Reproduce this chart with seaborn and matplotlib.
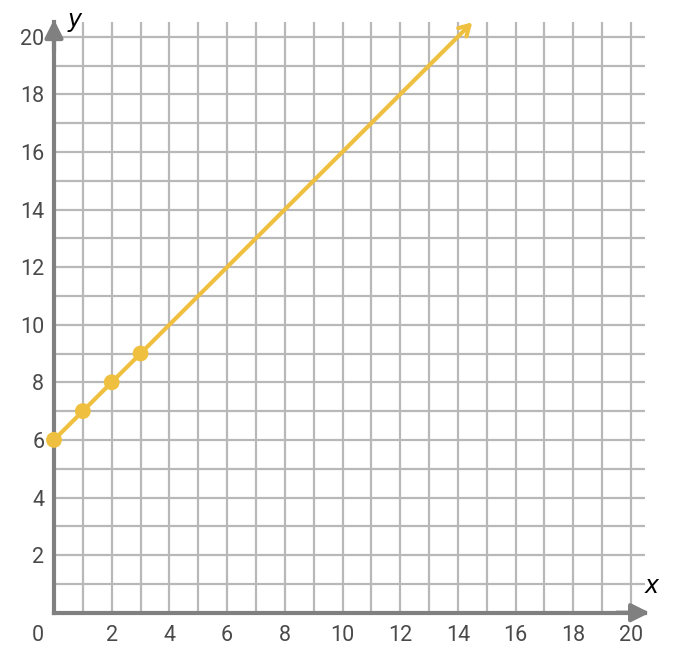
import matplotlib
matplotlib.use("Agg")
import matplotlib.pyplot as plt
import seaborn as sns
import pandas as pd
import matplotlib.transforms as mtransforms

# data
point_x = [0, 1, 2, 3]
point_y = [6, 7, 8, 9]
line_start = (0, 6)
line_end = (14.5, 20.5)
tick_values = [2, 4, 6, 8, 10, 12, 14, 16, 18, 20]
tick_labels = [str(v) for v in tick_values]

sns.set_theme(style="white")
plt.rcParams['font.family'] = ['Roboto', 'DejaVu Sans']

W, H = 676, 656
fig = plt.figure(figsize=(W / 100, H / 100), dpi=100)
ppu_x, ppu_y = 28.85, 28.8
x0_px, y0_px = 54, 612.7
xmax, ymax = 20.5, 20.5
ax = fig.add_axes([x0_px / W, (H - y0_px) / H, xmax * ppu_x / W, ymax * ppu_y / H])
ax.set_xlim(0, xmax)
ax.set_ylim(0, ymax)

grid_c = "#b8b8b8"
axis_c = "#808080"
line_c = "#EFC03F"
text_c = "#4a4a4a"
fs = 15.5

ax.set_xticks(range(1, 21), minor=True)
ax.set_yticks(range(1, 21), minor=True)
ax.set_xticks(tick_values)
ax.set_yticks(tick_values)
ax.set_xticklabels(tick_labels)
ax.set_yticklabels(tick_labels)
ax.grid(True, which="both", color=grid_c, lw=1.6)
ax.set_axisbelow(True)
ax.tick_params(which="both", length=0)
ax.tick_params(axis="x", pad=9, labelsize=fs, labelcolor=text_c)
ax.tick_params(axis="y", pad=7, labelsize=fs, labelcolor=text_c)

for s in ["top", "right"]:
    ax.spines[s].set_visible(False)
for s in ["left", "bottom"]:
    ax.spines[s].set_color(axis_c)
    ax.spines[s].set_linewidth(3)
    ax.spines[s].set_zorder(3)

# axis arrows
ax.annotate("", xy=(20.65, 0), xytext=(19.5, 0),
            arrowprops=dict(arrowstyle="-|>,head_length=0.9,head_width=0.45",
                            color=axis_c, lw=3, shrinkA=0, shrinkB=0),
            annotation_clip=False, zorder=3)
ax.annotate("", xy=(0, 20.6), xytext=(0, 19.5),
            arrowprops=dict(arrowstyle="-|>,head_length=0.9,head_width=0.45",
                            color=axis_c, lw=3, shrinkA=0, shrinkB=0),
            annotation_clip=False, zorder=3)

# the "0" label on the x axis, shifted left
t0 = ax.text(-0.55, 0, "0", fontsize=fs, color=text_c, ha="center", va="top")
t0.set_transform(ax.transData + mtransforms.ScaledTranslation(0, -9 / 72, fig.dpi_scale_trans))

# axis names
ax.text(20.7, 0.5, "x", fontsize=17, style="italic", color="black", ha="center", va="bottom",
        fontfamily="DejaVu Sans")
ax.text(0.7, 20.15, "y", fontsize=17, style="italic", color="black", ha="center", va="bottom",
        fontfamily="DejaVu Sans")

# line with arrow
ax.annotate("", xy=line_end, xytext=line_start,
            arrowprops=dict(arrowstyle="->,head_length=0.6,head_width=0.35", color=line_c, lw=3,
                            shrinkA=0, shrinkB=0),
            annotation_clip=False, zorder=4)

df = pd.DataFrame({"x": point_x, "y": point_y})
sns.scatterplot(data=df, x="x", y="y", ax=ax, color=line_c, s=130, edgecolor="none",
                zorder=5, clip_on=False)
ax.set_xlabel("")
ax.set_ylabel("")

fig.savefig("out.png", dpi=100)
